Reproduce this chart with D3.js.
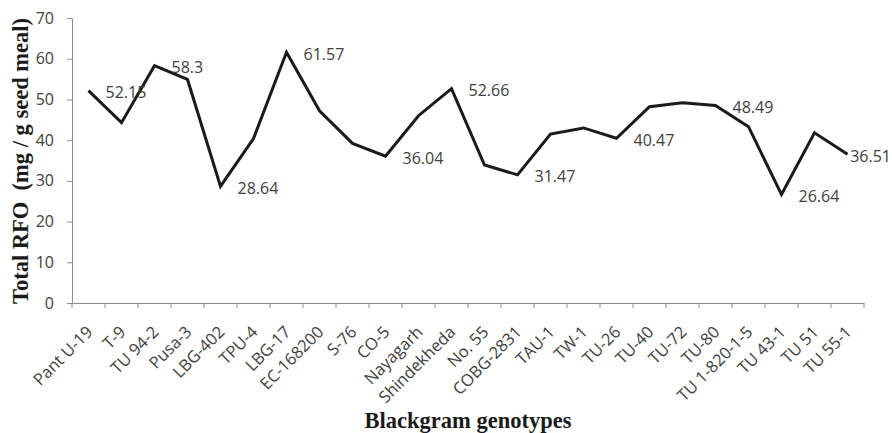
<!DOCTYPE html>
<html>
<head>
<meta charset="utf-8">
<script src="https://cdn.jsdelivr.net/npm/d3@7"></script>
<style>
  body { margin: 0; background: #fff; }
  svg { display: block; }
</style>
</head>
<body>
<svg id="chart" width="892" height="433"></svg>
<script>
const categories = ["Pant U-19","T-9","TU 94-2","Pusa-3","LBG-402","TPU-4","LBG-17","EC-168200","S-76","CO-5","Nayagarh","Shindekheda","No. 55","COBG-2831","TAU-1","TW-1","TU-26","TU-40","TU-72","TU-80","TU 1-820-1-5","TU 43-1","TU 51","TU 55-1"];
const values = [52.15,44.3,58.3,54.9,28.64,40.4,61.57,47.2,39.2,36.04,46.0,52.66,33.9,31.47,41.5,43.0,40.47,48.2,49.2,48.49,43.3,26.64,41.8,36.51];
const labelled = [0,2,4,6,9,11,13,16,19,21,23];
const yTicks = [0,10,20,30,40,50,60,70];
const yTitle = "Total RFO  (mg / g seed meal)";
const xTitle = "Blackgram genotypes";

(function () {
const W = 892;
const svg = d3.select("#chart");
const mLeft = 72, mRight = 864, mTop = 18, mBottom = 303;
const x = d3.scaleBand().domain(categories).range([mLeft, mRight]).padding(0);
const y = d3.scaleLinear().domain([0, 70]).range([mBottom, mTop]);
const bw = x.bandwidth();
const axisColor = "#8c8c8c";
const textColor = "#404040";
const font = "'Open Sans', sans-serif";

// Y axis
const yAxis = svg.append("g").attr("transform", `translate(${mLeft},0)`)
  .call(d3.axisLeft(y).tickValues(yTicks).tickSize(5).tickPadding(13).tickFormat(d3.format("d")));
yAxis.select(".domain").attr("stroke", axisColor);
yAxis.selectAll(".tick line").attr("stroke", axisColor);
yAxis.selectAll(".tick text").attr("fill", textColor).style("font-family", font).style("font-size", "16px");

// X axis
const xAxis = svg.append("g").attr("transform", `translate(0,${mBottom})`)
  .call(d3.axisBottom(x).tickSize(0).tickFormat(""));
xAxis.select(".domain").attr("stroke", axisColor);
const boundaries = categories.map(c => x(c)).concat([x.range()[1]]);
xAxis.selectAll(".bt").data(boundaries).enter().append("line")
  .attr("x1", d => d).attr("x2", d => d).attr("y1", 0).attr("y2", 5)
  .attr("stroke", axisColor);
xAxis.selectAll(".tick").each(function(d) {
  const t = d3.select(this);
  t.select("text").remove();
  t.append("text")
    .attr("transform", "translate(1,26) rotate(-45)")
    .attr("text-anchor", "end")
    .attr("dy", "0.35em")
    .attr("fill", textColor)
    .style("font-family", font)
    .style("font-size", "16.5px")
    .text(d);
});

// Line
const line = d3.line().x((d, i) => x(categories[i]) + bw / 2).y(d => y(d));
svg.append("path").datum(values)
  .attr("d", line)
  .attr("fill", "none")
  .attr("stroke", "#1a1a1a")
  .attr("stroke-width", 3)
  .attr("stroke-linejoin", "miter");

// Data labels
const dl = svg.selectAll(".dl").data(labelled).enter().append("text")
  .attr("x", i => x(categories[i]) + bw / 2 + 17)
  .attr("y", i => y(values[i]) + 2)
  .attr("dy", "0.35em")
  .attr("fill", textColor)
  .style("font-family", font)
  .style("font-size", "16px")
  .text(i => String(values[i]));
dl.each(function(i) {
  const w = this.getComputedTextLength();
  const px = x(categories[i]) + bw / 2 + 17;
  if (px + w > W - 1) d3.select(this).attr("x", W - 1 - w);
});

// Axis titles
svg.append("text")
  .attr("transform", `translate(28,161) rotate(-90)`)
  .attr("text-anchor", "middle")
  .attr("fill", "#1a1a1a")
  .style("font-family", "'Liberation Serif', serif")
  .style("font-weight", "bold")
  .style("font-size", "22.5px")
  .style("white-space", "pre")
  .text(yTitle);
svg.append("text")
  .attr("x", 468).attr("y", 428)
  .attr("text-anchor", "middle")
  .attr("fill", "#1a1a1a")
  .style("font-family", "'Liberation Serif', serif")
  .style("font-weight", "bold")
  .style("font-size", "22.5px")
  .text(xTitle);
})();
</script>
</body>
</html>
